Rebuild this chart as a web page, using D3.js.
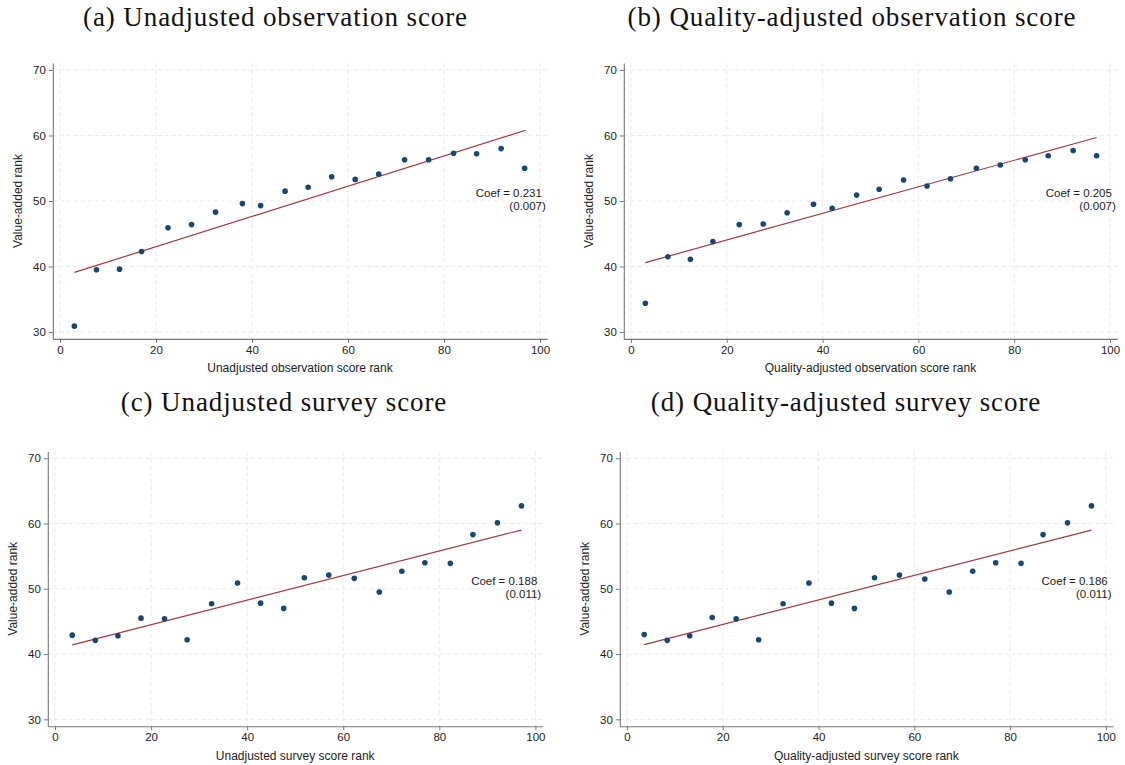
<!DOCTYPE html>
<html>
<head>
<meta charset="utf-8">
<script src="https://cdn.jsdelivr.net/npm/d3@7"></script>
<style>
  body { margin: 0; background: #fff; }
  svg { display: block; }
  .tick text { font-family: "Liberation Sans", Arial, sans-serif; font-size: 11.5px; fill: #222; }
</style>
</head>
<body>
<svg id="chart" width="1125" height="765"></svg>
<script>
// tick values shared by every panel
const xTicks = [0, 20, 40, 60, 80, 100];
const yTicks = [30, 40, 50, 60, 70];

// (a) unadjusted observation score
const obsRankA = [3.0, 7.6, 12.4, 17.0, 22.5, 27.4, 32.4, 38.0, 41.8, 46.9, 51.7, 56.6, 61.5, 66.4, 71.8, 76.8, 82.0, 86.8, 91.9, 96.8];
const vaRankA = [30.9, 39.5, 39.6, 42.3, 45.9, 46.4, 48.3, 49.6, 49.3, 51.5, 52.1, 53.7, 53.3, 54.1, 56.3, 56.3, 57.3, 57.2, 58.0, 55.0];
const fitA = [[3.0, 39.1], [97.0, 60.8]];

// (b) quality-adjusted observation score
const obsRankB = [3.0, 7.7, 12.4, 17.1, 22.6, 27.6, 32.6, 38.1, 42.0, 47.1, 51.8, 56.9, 61.8, 66.7, 72.1, 77.1, 82.3, 87.1, 92.3, 97.2];
const vaRankB = [34.4, 41.5, 41.1, 43.8, 46.4, 46.5, 48.2, 49.5, 48.9, 50.9, 51.8, 53.2, 52.3, 53.4, 55.0, 55.5, 56.3, 56.9, 57.7, 56.9];
const fitB = [[3.0, 40.6], [97.2, 59.7]];

// (c) unadjusted survey score
const surRankC = [3.6, 8.4, 13.1, 17.9, 22.8, 27.5, 32.6, 38.0, 42.8, 47.6, 51.9, 57.0, 62.3, 67.5, 72.2, 77.0, 82.3, 87.0, 92.1, 97.1];
const vaRankC = [42.9, 42.1, 42.8, 45.5, 45.4, 42.2, 47.7, 50.9, 47.8, 47.0, 51.7, 52.1, 51.6, 49.5, 52.7, 54.0, 53.9, 58.3, 60.1, 62.7];
const fitC = [[3.6, 41.4], [97.1, 59.0]];

// (d) quality-adjusted survey score
const surRankD = [3.6, 8.4, 13.1, 17.8, 22.8, 27.5, 32.6, 38.0, 42.7, 47.5, 51.7, 56.9, 62.2, 67.3, 72.2, 77.0, 82.3, 86.9, 92.0, 97.0];
const vaRankD = [43.0, 42.1, 42.8, 45.6, 45.4, 42.2, 47.7, 50.9, 47.8, 47.0, 51.7, 52.1, 51.5, 49.5, 52.7, 54.0, 53.9, 58.3, 60.1, 62.7];
const fitD = [[3.6, 41.45], [97.0, 59.0]];

const titles = ["(a) Unadjusted observation score", "(b) Quality-adjusted observation score",
  "(c) Unadjusted survey score", "(d) Quality-adjusted survey score"];
const xTitles = ["Unadjusted observation score rank", "Quality-adjusted observation score rank",
  "Unadjusted survey score rank", "Quality-adjusted survey score rank"];
const coefs = ["Coef = 0.231", "Coef = 0.205", "Coef = 0.188", "Coef = 0.186"];
const ses = ["(0.007)", "(0.007)", "(0.011)", "(0.011)"];

// layout of the four plot regions (pixels)
const panels = [
  { left: 52.8, right: 547.2, top: 63.1, bottom: 338.9, titleX: 275.5, titleY: 26, xs: obsRankA, ys: vaRankA, fit: fitA },
  { left: 623.8, right: 1117.2, top: 63.1, bottom: 338.9, titleX: 852, titleY: 26, xs: obsRankB, ys: vaRankB, fit: fitB },
  { left: 47.8, right: 542.6, top: 451.4, bottom: 726.2, titleX: 284, titleY: 411, xs: surRankC, ys: vaRankC, fit: fitC },
  { left: 619.8, right: 1113, top: 451.4, bottom: 726.2, titleX: 846, titleY: 411, xs: surRankD, ys: vaRankD, fit: fitD }
];

const svg = d3.select("#chart");
const sans = "'Liberation Sans', Arial, sans-serif";

panels.forEach((p, i) => {
  const g = svg.append("g");

  let x = d3.scaleLinear().domain([-1.5, 101.5]).range([p.left, p.right]);
  let y = d3.scaleLinear().domain([28.95, 71.05]).range([p.bottom, p.top]);

  // dashed grid
  g.append("g").selectAll("line.v")
    .data(xTicks)
    .enter()
    .append("line")
    .attr("x1", d => x(d)).attr("x2", d => x(d))
    .attr("y1", p.top).attr("y2", p.bottom)
    .attr("stroke", "#e9e9e9").attr("stroke-width", 1)
    .attr("stroke-dasharray", "4,3");

  g.append("g").selectAll("line.h")
    .data(yTicks)
    .enter()
    .append("line")
    .attr("x1", p.left).attr("x2", p.right)
    .attr("y1", d => y(d)).attr("y2", d => y(d))
    .attr("stroke", "#e9e9e9").attr("stroke-width", 1)
    .attr("stroke-dasharray", "4,3");

  // axes
  let xAxis = g.append("g")
    .attr("transform", "translate(0," + p.bottom + ")")
    .call(d3.axisBottom(x).tickValues(xTicks).tickSize(4).tickSizeOuter(0).tickPadding(3));
  let yAxis = g.append("g")
    .attr("transform", "translate(" + p.left + ",0)")
    .call(d3.axisLeft(y).tickValues(yTicks).tickSize(4).tickSizeOuter(0).tickPadding(3));
  [xAxis, yAxis].forEach(a => {
    a.select(".domain").attr("stroke", "#777").attr("stroke-width", 1.1);
    a.selectAll(".tick line").attr("stroke", "#777");
  });

  // fitted line
  g.append("path")
    .datum(p.fit)
    .attr("fill", "none")
    .attr("stroke", "#a0393e")
    .attr("stroke-width", 1.2)
    .attr("d", d3.line().x(d => x(d[0])).y(d => y(d[1])));

  // binned points
  g.append("g").selectAll("circle")
    .data(d3.zip(p.xs, p.ys))
    .enter()
    .append("circle")
    .attr("cx", d => x(d[0]))
    .attr("cy", d => y(d[1]))
    .attr("r", 2.8)
    .attr("fill", "#1a476f");

  // coefficient note
  g.append("text")
    .attr("x", x(100.4)).attr("y", y(50.55))
    .attr("text-anchor", "end")
    .attr("font-family", sans).attr("font-size", "11.5px").attr("fill", "#222")
    .text(coefs[i]);
  g.append("text")
    .attr("x", x(101.2)).attr("y", y(50.55) + 13)
    .attr("text-anchor", "end")
    .attr("font-family", sans).attr("font-size", "11.5px").attr("fill", "#222")
    .text(ses[i]);

  // axis titles
  g.append("text")
    .attr("x", (p.left + p.right) / 2).attr("y", p.bottom + 33.5)
    .attr("text-anchor", "middle")
    .attr("font-family", sans).attr("font-size", "12px").attr("fill", "#222")
    .text(xTitles[i]);
  g.append("text")
    .attr("transform", "translate(" + (p.left - 31) + "," + ((p.top + p.bottom) / 2) + ") rotate(-90)")
    .attr("text-anchor", "middle")
    .attr("font-family", sans).attr("font-size", "12px").attr("fill", "#222")
    .text("Value-added rank");

  // panel title
  svg.append("text")
    .attr("x", p.titleX).attr("y", p.titleY)
    .attr("text-anchor", "middle")
    .attr("font-family", "'Liberation Serif', 'DejaVu Serif', serif")
    .attr("font-size", "27px").attr("letter-spacing", "0.9px").attr("fill", "#111")
    .text(titles[i]);
});
</script>
</body>
</html>
